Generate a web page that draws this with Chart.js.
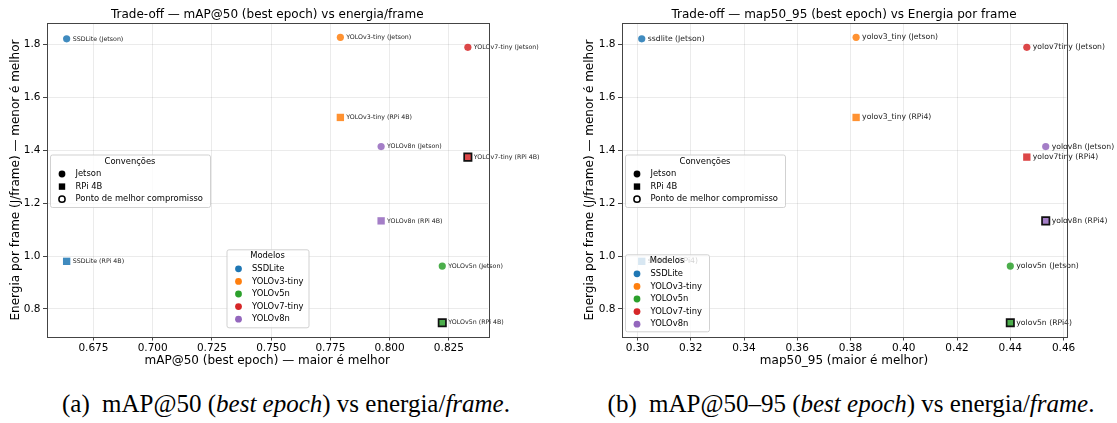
<!DOCTYPE html>
<html lang="pt">
<head>
<meta charset="utf-8">
<title>Trade-off mAP vs energia por frame</title>
<script src="https://cdn.jsdelivr.net/npm/chart.js@4.4.1/dist/chart.umd.min.js"></script>
<style>
  body { margin: 0; background: #fff; }
  #page { position: relative; width: 1117px; height: 423px; overflow: hidden; }
  #chartA { position: absolute; left: 0; top: 0; }
  #chartB { position: absolute; left: 560px; top: 0; }
  .caption {
    position: absolute; top: 390px;
    font-family: "Liberation Serif", "Times New Roman", serif;
    font-size: 25px; white-space: nowrap; color: #000;
    transform: translateX(-50%);
  }
  .caption b { font-weight: normal; margin-right: 6px; }
</style>
</head>
<body>
<div id="page">
  <canvas id="chartA" width="555" height="372"></canvas>
  <canvas id="chartB" width="557" height="372"></canvas>
  <div class="caption" style="left:286px"><b>(a)</b> mAP@50 (<i>best epoch</i>) vs energia/<i>frame</i>.</div>
  <div class="caption" style="left:851px"><b>(b)</b> mAP@50–95 (<i>best epoch</i>) vs energia/<i>frame</i>.</div>
</div>
<script>
// modelos e cores (tab10)
const models = ['SSDLite', 'YOLOv3-tiny', 'YOLOv5n', 'YOLOv7-tiny', 'YOLOv8n'];
const runNames = ['ssdlite', 'yolov3_tiny', 'yolov5n', 'yolov7tiny', 'yolov8n'];
const colors = ['#1f77b4', '#ff7f0e', '#2ca02c', '#d62728', '#9467bd'];

// métricas (best epoch)
const map50 = [0.6637, 0.7792, 0.8222, 0.8330, 0.7964];
const map5095 = [0.3016, 0.3821, 0.4400, 0.4462, 0.4533];

// energia por frame (J/frame)
const energyJetson = [1.821, 1.827, 0.962, 1.789, 1.414];
const energyRpi = [0.980, 1.524, 0.748, 1.374, 1.133];

// ponto de melhor compromisso (RPi)
const bestA = ['YOLOv7-tiny', 'YOLOv5n'];
const bestB = ['yolov8n', 'yolov5n'];

// ticks
const xTicksA = [0.675, 0.700, 0.725, 0.750, 0.775, 0.800, 0.825];
const xTicksB = [0.30, 0.32, 0.34, 0.36, 0.38, 0.40, 0.42, 0.44, 0.46];
const yTicks = [0.8, 1.0, 1.2, 1.4, 1.6, 1.8];

const FONT = '"DejaVu Sans", sans-serif';

function withAlpha(hex, a) {
  const n = parseInt(hex.slice(1), 16);
  return 'rgba(' + (n >> 16) + ',' + ((n >> 8) & 255) + ',' + (n & 255) + ',' + a + ')';
}

function drawLegendBox(ctx, box, title, rows) {
  ctx.save();
  ctx.fillStyle = 'rgba(255,255,255,0.8)';
  ctx.strokeStyle = 'rgba(204,204,204,0.9)';
  ctx.lineWidth = 1;
  ctx.beginPath();
  ctx.roundRect(box.x + 0.5, box.y + 0.5, box.w, box.h, 2);
  ctx.fill();
  ctx.stroke();
  ctx.font = '8.4px ' + FONT;
  ctx.fillStyle = '#000';
  ctx.textBaseline = 'middle';
  ctx.textAlign = 'center';
  ctx.fillText(title, box.x + box.w / 2, box.y + 7);
  ctx.textAlign = 'left';
  rows.forEach((r, k) => {
    const y = box.y + 19.5 + k * 12.6;
    const mx = box.x + 12;
    ctx.beginPath();
    if (r.kind === 'square') {
      ctx.fillStyle = r.color;
      ctx.fillRect(mx - 3.2, y - 3.2, 6.4, 6.4);
    } else if (r.kind === 'hollow') {
      ctx.arc(mx, y, 3.1, 0, Math.PI * 2);
      ctx.fillStyle = '#fff';
      ctx.fill();
      ctx.lineWidth = 1.5;
      ctx.strokeStyle = '#000';
      ctx.stroke();
    } else {
      ctx.arc(mx, y, 3.4, 0, Math.PI * 2);
      ctx.fillStyle = r.color;
      ctx.fill();
    }
    ctx.fillStyle = '#000';
    ctx.fillText(r.text, box.x + 25.5, y);
  });
  ctx.restore();
}

const decorations = {
  id: 'decorations',
  afterDatasetsDraw(chart) {
    const o = chart.options.plugins.decorations;
    const ctx = chart.ctx;
    const a = chart.chartArea;
    ctx.save();
    // nomes dos pontos
    ctx.font = o.labelSize + 'px ' + FONT;
    ctx.fillStyle = '#222';
    ctx.textBaseline = 'middle';
    ctx.textAlign = 'left';
    chart.data.datasets.forEach((ds, d) => {
      chart.getDatasetMeta(d).data.forEach((pt, i) => {
        ctx.fillText(ds.names[i], pt.x + o.labelOffset, pt.y);
      });
    });
    // moldura
    ctx.strokeStyle = '#444';
    ctx.lineWidth = 1;
    ctx.strokeRect(Math.round(a.left) + 0.5, Math.round(a.top) + 0.5,
      Math.round(a.right - a.left), Math.round(a.bottom - a.top));
    // título
    ctx.font = '12px ' + FONT;
    ctx.fillStyle = '#000';
    ctx.textAlign = 'center';
    ctx.fillText(o.title, (a.left + a.right) / 2, 15);
    ctx.restore();
  },
  afterDraw(chart) {
    const o = chart.options.plugins.decorations;
    const ctx = chart.ctx;
    drawLegendBox(ctx, o.convBox, 'Convenções', [
      { kind: 'circle', color: '#000', text: 'Jetson' },
      { kind: 'square', color: '#000', text: 'RPi 4B' },
      { kind: 'hollow', color: '#000', text: 'Ponto de melhor compromisso' }
    ]);
    drawLegendBox(ctx, o.modelBox, 'Modelos',
      models.map((m, i) => ({ kind: 'circle', color: colors[i], text: m })));
  }
};

function buildChart(id, cfg) {
  const isBest = cfg.names.map(n => cfg.best.includes(n));
  const jetson = {
    label: 'Jetson',
    data: cfg.xValues.map((x, i) => ({ x: x, y: energyJetson[i] })),
    names: cfg.names.map(n => n + ' (' + cfg.devices[0] + ')'),
    pointStyle: 'circle',
    pointRadius: 3.6,
    pointBackgroundColor: colors.map(c => withAlpha(c, 0.85)),
    pointBorderWidth: 0,
    clip: false
  };
  const rpi = {
    label: cfg.devices[1],
    data: cfg.xValues.map((x, i) => ({ x: x, y: energyRpi[i] })),
    names: cfg.names.map(n => n + ' (' + cfg.devices[1] + ')'),
    pointStyle: 'rect',
    pointRadius: 5.2,
    pointBackgroundColor: colors.map(c => withAlpha(c, 0.85)),
    pointBorderColor: isBest.map(b => b ? '#111' : 'rgba(0,0,0,0)'),
    pointBorderWidth: isBest.map(b => b ? 1.7 : 0),
    clip: false
  };

  return new Chart(document.getElementById(id).getContext('2d'), {
    type: 'scatter',
    data: { datasets: [jetson, rpi] },
    plugins: [decorations],
    options: {
      responsive: false,
      animation: false,
      events: [],
      layout: { padding: { top: 23, right: cfg.padRight, left: 0, bottom: 0 } },
      plugins: {
        legend: { display: false },
        tooltip: { enabled: false },
        decorations: {
          title: cfg.title,
          labelSize: cfg.labelSize,
          labelOffset: 6,
          convBox: cfg.convBox,
          modelBox: cfg.modelBox
        }
      },
      scales: {
        x: {
          type: 'linear',
          min: cfg.xMin,
          max: cfg.xMax,
          afterBuildTicks: s => { s.ticks = cfg.xTicks.map(v => ({ value: v })); },
          afterFit: s => { s.height = 35; },
          ticks: {
            callback: v => v.toFixed(cfg.xDecimals),
            font: { family: FONT, size: 10.5 },
            color: '#000',
            padding: 1.5,
            maxRotation: 0,
            autoSkip: false
          },
          grid: { color: 'rgba(0,0,0,0.08)', tickLength: 3.5, tickColor: '#444' },
          border: { display: false },
          title: {
            display: true,
            text: cfg.xTitle,
            font: { family: FONT, size: 12 },
            color: '#000',
            padding: { top: 0, bottom: 3.5 }
          }
        },
        y: {
          type: 'linear',
          min: 0.694,
          max: 1.881,
          afterBuildTicks: s => { s.ticks = yTicks.map(v => ({ value: v })); },
          afterFit: s => { s.width = cfg.yWidth; },
          ticks: {
            callback: v => v.toFixed(1),
            font: { family: FONT, size: 10.5 },
            color: '#000',
            padding: 2.5
          },
          grid: { color: 'rgba(0,0,0,0.08)', tickLength: 3.5, tickColor: '#444' },
          border: { display: false },
          title: {
            display: true,
            text: 'Energia por frame (J/frame) — menor é melhor',
            font: { family: FONT, size: 12 },
            color: '#000',
            padding: { top: cfg.yTitlePad, bottom: 0 }
          }
        }
      }
    }
  });
}

buildChart('chartA', {
  title: 'Trade-off — mAP@50 (best epoch) vs energia/frame',
  xTitle: 'mAP@50 (best epoch) — maior é melhor',
  xValues: map50,
  names: models,
  devices: ['Jetson', 'RPi 4B'],
  best: bestA,
  xTicks: xTicksA,
  xDecimals: 3,
  xMin: 0.6552,
  xMax: 0.8415,
  yWidth: 46.5,
  yTitlePad: 8.8,
  padRight: 67,
  labelSize: 6.3,
  convBox: { x: 50, y: 154.5, w: 160, h: 52.5 },
  modelBox: { x: 226.5, y: 249.3, w: 82, h: 78 }
});

buildChart('chartB', {
  title: 'Trade-off — map50_95 (best epoch) vs Energia por frame',
  xTitle: 'map50_95 (maior é melhor)',
  xValues: map5095,
  names: runNames,
  devices: ['Jetson', 'RPi4'],
  best: bestB,
  xTicks: xTicksB,
  xDecimals: 2,
  xMin: 0.294,
  xMax: 0.4611,
  yWidth: 61.5,
  yTitlePad: 23,
  padRight: 50.5,
  labelSize: 7.7,
  convBox: { x: 65, y: 154.5, w: 160, h: 52.5 },
  modelBox: { x: 65, y: 254.3, w: 84, h: 77 }
});
</script>
</body>
</html>
